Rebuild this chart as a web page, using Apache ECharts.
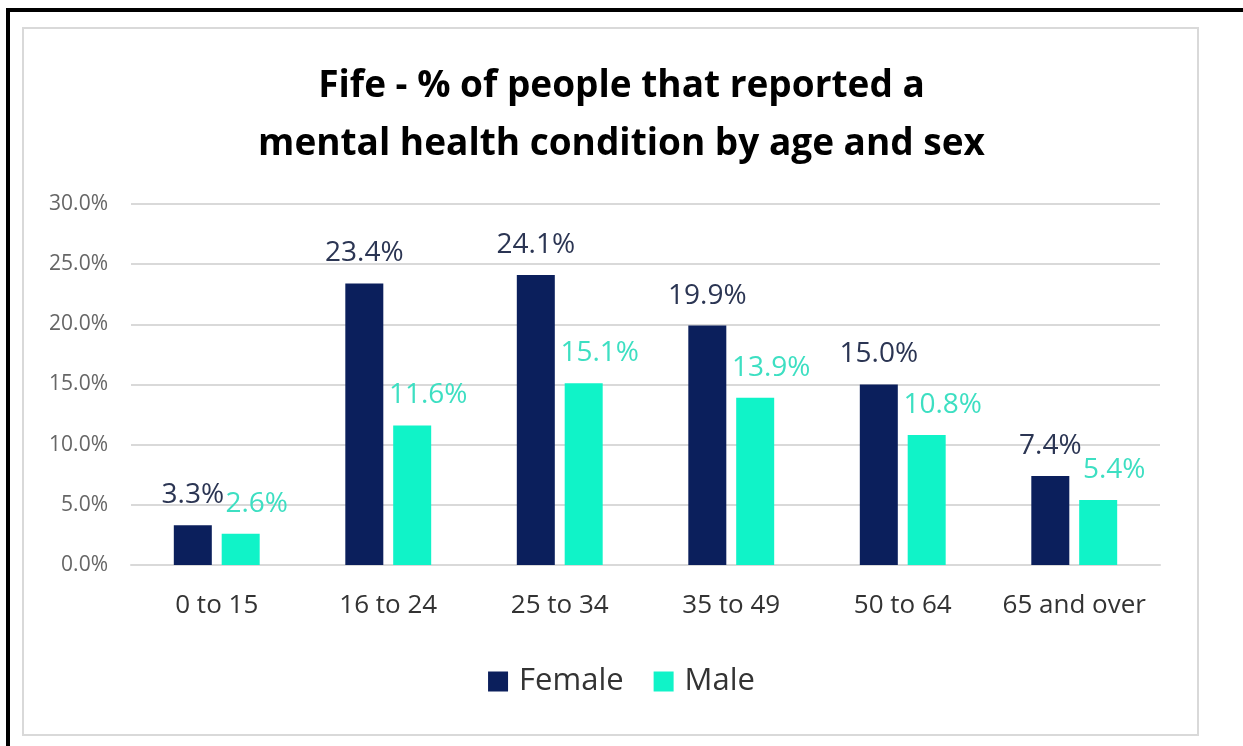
<!DOCTYPE html>
<html>
<head>
<meta charset="utf-8">
<script src="https://cdn.jsdelivr.net/npm/echarts@6/dist/echarts.min.js"></script>
<style>
  html, body { margin: 0; padding: 0; background: #ffffff; }
  #wrap { position: relative; width: 1243px; height: 746px; overflow: hidden; background: #fff; }
  #topline { position: absolute; left: 6px; top: 8px; width: 1237px; height: 4px; background: #000; }
  #leftline { position: absolute; left: 6px; top: 8px; width: 4px; height: 738px; background: #000; }
  #inner { position: absolute; left: 22px; top: 27px; width: 1173px; height: 705px; border: 2px solid #d9d9d9; box-sizing: content-box; }
  #chart { position: absolute; left: 0; top: 0; width: 1243px; height: 746px; }
</style>
</head>
<body>
<div id="wrap">
  <div id="topline"></div>
  <div id="leftline"></div>
  <div id="inner"></div>
  <div id="chart"></div>
</div>
<script>
const categories = ['0 to 15', '16 to 24', '25 to 34', '35 to 49', '50 to 64', '65 and over'];
const female = [3.3, 23.4, 24.1, 19.9, 15.0, 7.4];
const male = [2.6, 11.6, 15.1, 13.9, 10.8, 5.4];
const titleLines = ['Fife - % of people that reported a', 'mental health condition by age and sex'];

const FONT = '"Open Sans", "Noto Sans", sans-serif';
const chart = echarts.init(document.getElementById('chart'), null, { renderer: 'canvas' });
chart.setOption({
  backgroundColor: 'transparent',
  animation: false,
  title: {
    text: titleLines.join('\n'),
    left: 'center',
    top: 52,
    textStyle: { fontFamily: FONT, fontSize: 37, fontWeight: 'bold', color: '#000', lineHeight: 58 }
  },
  legend: {
    data: ['Female', 'Male'],
    bottom: 44,
    left: 'center',
    itemWidth: 20,
    itemHeight: 20,
    itemGap: 30,
    icon: 'rect',
    textStyle: { fontFamily: FONT, fontSize: 31, color: '#333333', padding: [0, 0, 0, 6] }
  },
  grid: { left: 131, right: 83, top: 204, bottom: 181 },
  xAxis: {
    type: 'category',
    data: categories,
    axisLine: { show: true, lineStyle: { color: '#d9d9d9', width: 2 } },
    axisTick: { show: false },
    axisLabel: { interval: 0, hideOverlap: false, fontFamily: FONT, fontSize: 26, color: '#333333', margin: 28 }
  },
  yAxis: {
    type: 'value',
    min: 0,
    max: 30,
    interval: 5,
    axisLine: { show: false },
    axisTick: { show: false },
    splitLine: { lineStyle: { color: '#d9d9d9', width: 2 } },
    axisLabel: {
      fontFamily: FONT, fontSize: 21, color: '#666666', margin: 23,
      formatter: v => v.toFixed(1) + '%'
    }
  },
  series: [
    {
      name: 'Female',
      type: 'bar',
      data: female,
      barWidth: 38,
      barGap: '26%',
      itemStyle: { color: '#0b1f5c' },
      label: {
        show: true, position: 'top', distance: 16,
        fontFamily: FONT, fontSize: 28, color: '#2b3553',
        formatter: p => p.value.toFixed(1) + '%'
      }
    },
    {
      name: 'Male',
      type: 'bar',
      data: male,
      barWidth: 38,
      itemStyle: { color: '#10f3c8' },
      label: {
        show: true, position: 'top', distance: 16, offset: [16, 0],
        fontFamily: FONT, fontSize: 28, color: '#3ddfc2',
        formatter: p => p.value.toFixed(1) + '%'
      }
    }
  ]
});
</script>
</body>
</html>
